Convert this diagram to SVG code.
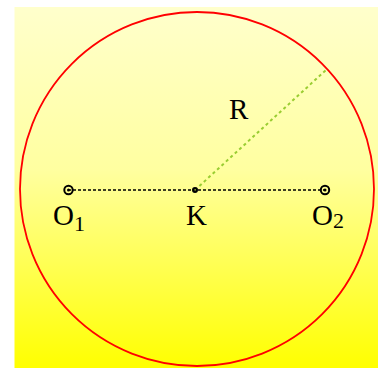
<svg xmlns="http://www.w3.org/2000/svg" width="378" height="368" viewBox="0 0 378 368">
<style>
.lbl{font-family:"Liberation Serif","Times New Roman",serif;font-size:29px;fill:#000}
.sub{font-size:22px}
.pt{fill:none;stroke:#000;stroke-width:2}
</style>
<defs>
<linearGradient id="bg" x1="0" y1="0" x2="0" y2="1">
<stop offset="0" stop-color="#FFFFCC"/>
<stop offset="0.45" stop-color="#FFFFA0"/>
<stop offset="1" stop-color="#FFFF00"/>
</linearGradient>
</defs>
<rect x="14.5" y="7" width="363.5" height="361" fill="url(#bg)"/>
<g id="circle">
<circle cx="197" cy="189" r="177" fill="none" stroke="#FF0000" stroke-width="1.8"/>
</g>
<g id="connectors">
<line x1="68" y1="190" x2="325" y2="190" stroke="#000" stroke-width="1.5" stroke-dasharray="3,2"/>
<line x1="195" y1="190" x2="326" y2="70" stroke="#9ACD32" stroke-width="2" stroke-dasharray="3,3"/>
</g>
<g id="O1">
<circle cx="68.5" cy="190" r="4.2" class="pt"/>
<circle cx="68.5" cy="190" r="1.5" fill="#000"/>
<text class="lbl" x="53" y="225">O<tspan class="sub" dy="6">1</tspan></text>
</g>
<g id="K">
<circle cx="195" cy="190" r="2" class="pt"/>
<text class="lbl" x="186" y="225">K</text>
</g>
<g id="O2">
<circle cx="325" cy="190" r="4.2" class="pt"/>
<circle cx="325" cy="190" r="1.5" fill="#000"/>
<text class="lbl" x="312" y="225">O<tspan class="sub" dy="3">2</tspan></text>
</g>
<g id="R">
<text class="lbl" x="229" y="119">R</text>
</g>
</svg>
